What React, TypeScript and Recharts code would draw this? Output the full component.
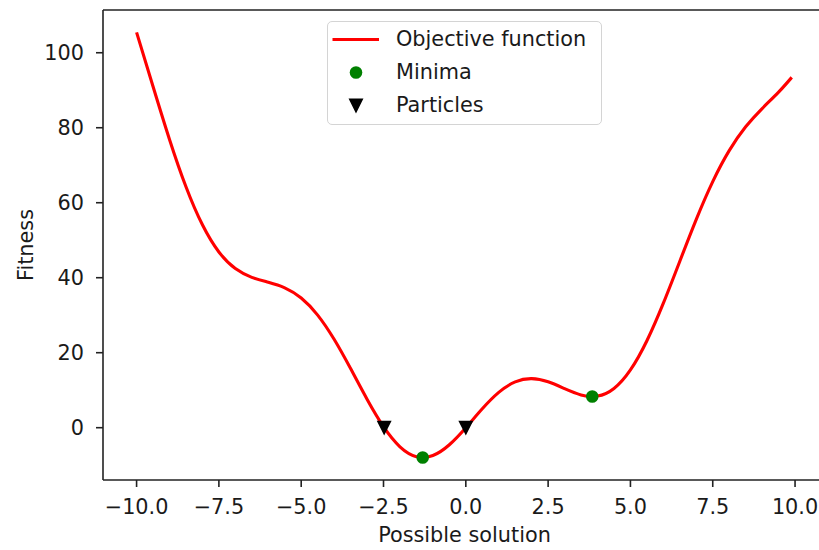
import { ComposedChart, Line, Scatter, XAxis, YAxis, Legend, ReferenceLine } from 'recharts';

// objective function sampled off the plot
const solutionX = [
  -10, -9.5, -9, -8.5, -8, -7.5, -7, -6.5, -6, -5.5, -5, -4.5, -4, -3.5, -3, -2.5, -2, -1.5, -1, -0.5,
  0, 0.5, 1, 1.5, 2, 2.5, 3, 3.5, 4, 4.5, 5, 5.5, 6, 6.5, 7, 7.5, 8, 8.5, 9, 9.5, 9.9,
];
const fitnessY = [
  105.44, 91.0, 76.88, 64.26, 54.11, 46.87, 42.43, 40.1, 38.79, 37.31, 34.59, 30.03, 23.57, 15.76, 7.59, 0.27,
  -5.09, -7.72, -7.41, -4.54, 0, 5.04, 9.41, 12.22, 13.09, 12.23, 10.41, 8.74, 8.43, 10.47, 15.41, 23.19, 33.21,
  44.4, 55.57, 65.63, 73.89, 80.24, 85.12, 89.5, 93.43,
];

const minimaX = [-1.31, 3.84];
const minimaY = [-7.95, 8.32];

const particleX = [-2.48, 0];
const particleY = [0, 0];

const xTicks = [-10, -7.5, -5, -2.5, 0, 2.5, 5, 7.5, 10];
const yTicks = [0, 20, 40, 60, 80, 100];

const X_DOMAIN: [number, number] = [-11.02, 10.94];
const Y_DOMAIN: [number, number] = [-13.95, 111.4];

const FONT = 'DejaVu Sans';
const FS = 20.8;
const INK = '#1a1a1a';
const SPINE = '#222';

const lineData = solutionX.map((x, i) => ({ x, y: fitnessY[i] }));
const minimaData = minimaX.map((x, i) => ({ x, y: minimaY[i] }));
const particleData = particleX.map((x, i) => ({ x, y: particleY[i] }));

const fmtX = (v: number) => (v < 0 ? '\u2212' : '') + Math.abs(v).toFixed(1);

const Dot = (p: any) => <circle cx={p.cx} cy={p.cy} r={6.3} fill="#008000" />;

const Tri = (p: any) => {
  const h = 6.25;
  return (
    <path
      d={`M${p.cx - h},${p.cy - h} L${p.cx + h},${p.cy - h} L${p.cx},${p.cy + h} Z`}
      fill="#000"
      stroke="#000"
      strokeWidth={1.5}
    />
  );
};

const LegendBox = () => {
  const rows = [
    { label: 'Objective function', kind: 'line' },
    { label: 'Minima', kind: 'dot' },
    { label: 'Particles', kind: 'tri' },
  ];
  return (
    <div
      style={{
        boxSizing: 'border-box',
        width: 275,
        height: 104,
        border: '1.6px solid #d4d4d4',
        borderRadius: 5,
        background: 'rgba(255,255,255,0.8)',
        paddingTop: 1,
        fontFamily: FONT,
        fontSize: FS,
        color: INK,
      }}
    >
      {rows.map((r) => (
        <div key={r.label} style={{ display: 'flex', alignItems: 'center', height: 33 }}>
          <svg width={68} height={33} style={{ display: 'block' }}>
            {r.kind === 'line' && <line x1={4.5} x2={51} y1={16.5} y2={16.5} stroke="#ff0000" strokeWidth={3.1} />}
            {r.kind === 'dot' && <circle cx={28} cy={16.5} r={6.3} fill="#008000" />}
            {r.kind === 'tri' && <Tri cx={28} cy={16.5} />}
          </svg>
          <span style={{ lineHeight: '33px', whiteSpace: 'nowrap' }}>{r.label}</span>
        </div>
      ))}
    </div>
  );
};

export default function App() {
  return (
    <div style={{ position: 'absolute', left: 0, top: 0, width: 819, height: 550, overflow: 'hidden', background: '#fff' }}>
      <ComposedChart width={840} height={550} margin={{ top: 10, right: 14, bottom: 0, left: 0 }} style={{ fontFamily: FONT }}>
        <XAxis
          dataKey="x"
          type="number"
          domain={X_DOMAIN}
          allowDataOverflow
          ticks={xTicks}
          tickFormatter={fmtX}
          height={70}
          tickSize={7}
          tickMargin={12}
          interval={0}
          tick={{ fontSize: FS, fill: INK, fontFamily: FONT }}
          tickLine={{ stroke: SPINE, strokeWidth: 1.6 }}
          axisLine={{ stroke: SPINE, strokeWidth: 1.6 }}
          label={{
            content: (p: any) => (
              <text
                x={p.viewBox.x + p.viewBox.width / 2}
                y={p.viewBox.y + 61.5}
                textAnchor="middle"
                fontSize={FS}
                fontFamily={FONT}
                fill={INK}
              >
                Possible solution
              </text>
            ),
          }}
        />
        <YAxis
          dataKey="y"
          type="number"
          domain={Y_DOMAIN}
          allowDataOverflow
          ticks={yTicks}
          width={103}
          tickSize={7}
          tickMargin={12}
          interval={0}
          tick={{ fontSize: FS, fill: INK, fontFamily: FONT }}
          tickLine={{ stroke: SPINE, strokeWidth: 1.6 }}
          axisLine={{ stroke: SPINE, strokeWidth: 1.6 }}
          label={{
            content: (p: any) => {
              const cx = p.viewBox.x + 33;
              const cy = p.viewBox.y + p.viewBox.height / 2;
              return (
                <text
                  x={cx}
                  y={cy}
                  transform={`rotate(-90, ${cx}, ${cy})`}
                  textAnchor="middle"
                  fontSize={FS}
                  fontFamily={FONT}
                  fill={INK}
                >
                  Fitness
                </text>
              );
            },
          }}
        />
        {/* top spine */}
        <ReferenceLine y={Y_DOMAIN[1]} stroke={SPINE} strokeWidth={1.6} ifOverflow="visible" />
        <Legend
          layout="horizontal"
          verticalAlign="middle"
          align="center"
          content={() => <LegendBox />}
          wrapperStyle={{ left: 327, top: 21, width: 275, height: 104 }}
        />
        <Line
          data={lineData}
          dataKey="y"
          type="natural"
          stroke="#ff0000"
          strokeWidth={3.1}
          dot={false}
          activeDot={false}
          isAnimationActive={false}
          name="Objective function"
        />
        <Scatter data={minimaData} dataKey="y" shape={Dot} isAnimationActive={false} name="Minima" />
        <Scatter data={particleData} dataKey="y" shape={Tri} isAnimationActive={false} name="Particles" />
      </ComposedChart>
    </div>
  );
}
